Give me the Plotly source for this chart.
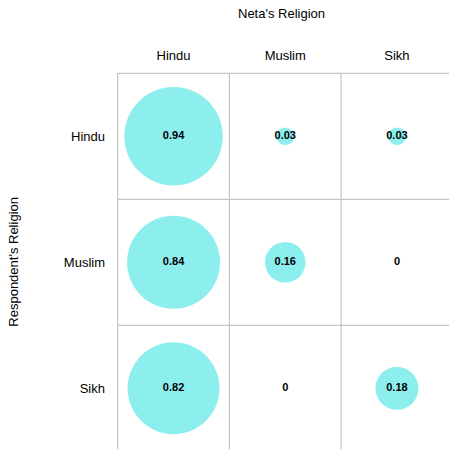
import plotly.graph_objects as go

neta = ["Hindu", "Muslim", "Sikh"]
respondent = ["Hindu", "Muslim", "Sikh"]
share_hindu_resp = [0.94, 0.03, 0.03]
share_muslim_resp = [0.84, 0.16, 0]
share_sikh_resp = [0.82, 0, 0.18]
rows = [share_hindu_resp, share_muslim_resp, share_sikh_resp]

xs, ys, vals = [], [], []
for r, row in zip(respondent, rows):
    for c, v in zip(neta, row):
        xs.append(c)
        ys.append(r)
        vals.append(v)

fig = go.Figure(go.Scatter(
    x=xs, y=ys, mode="markers+text",
    text=[f"{v:g}" for v in vals],
    textposition="middle center",
    textfont=dict(family="Liberation Sans, Arial", size=11, color="black", weight="bold"),
    marker=dict(size=vals, sizemode="area", sizeref=2 / 101.5 ** 2, sizemin=0,
                color="#8DEEEE", opacity=1, line=dict(width=0)),
    cliponaxis=False,
    hoverinfo="skip",
))

shapes = []
n = len(neta)
for k in range(n + 1):
    b = k - 0.5
    shapes.append(dict(type="line", xref="x", yref="y", x0=b, x1=b, y0=-0.5, y1=n + 0.5,
                       line=dict(color="#C4C4C4", width=1.2), layer="below"))
    shapes.append(dict(type="line", xref="x", yref="y", y0=b, y1=b, x0=-0.5, x1=n + 0.5,
                       line=dict(color="#C4C4C4", width=1.2), layer="below"))

fig.update_layout(
    width=449, height=449,
    margin=dict(l=110, r=0, t=66, b=0, autoexpand=False),
    paper_bgcolor="white", plot_bgcolor="white",
    showlegend=False,
    font=dict(family="Liberation Sans, Arial", size=13, color="black"),
    shapes=shapes,
    xaxis=dict(type="category", categoryorder="array", categoryarray=neta,
               side="top", range=[-0.569, 2.466], showgrid=False, zeroline=False,
               showline=False, ticks="", ticklabelstandoff=2, automargin=False,
               tickfont=dict(size=13, color="black")),
    yaxis=dict(type="category", categoryorder="array", categoryarray=respondent,
               range=[2.482, -0.558], showgrid=False, zeroline=False,
               showline=False, ticks="", ticklabelstandoff=4, automargin=False,
               tickfont=dict(size=13, color="black")),
    annotations=[
        dict(text="Neta's Religion", xref="paper", yref="paper", x=0.5049, y=(449 - 14) / 383,
             showarrow=False, font=dict(size=13, color="black"), xanchor="center", yanchor="middle"),
        dict(text="Respondent's Religion", xref="paper", yref="paper",
             x=(12.7 - 110) / 339, y=(449 - 262) / 383, textangle=-90,
             showarrow=False, font=dict(size=13, color="black"), xanchor="center", yanchor="middle"),
    ],
)

# remove the page's default 8px body margin so the 449px figure fills the window
fig.write_html("out.html", config={"displayModeBar": False},
               post_script="document.body.style.margin='0px';")
